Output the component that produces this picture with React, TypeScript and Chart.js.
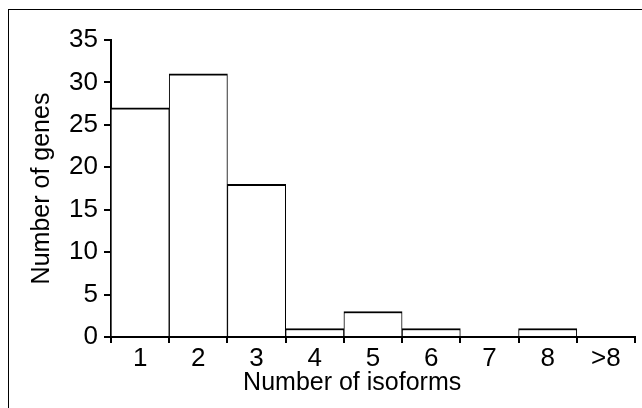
import React, { useEffect, useRef } from "react";
import { Chart, registerables } from "chart.js";

Chart.register(...registerables);

const categories = ["1", "2", "3", "4", "5", "6", "7", "8", ">8"];
const geneCounts = [27, 31, 18, 1, 3, 1, 0, 1, 0];
const yTickStep = 5;
const yMax = 35;
const xTitle = "Number of isoforms      ";
const yTitle = "Number of genes";

const FONT = "'Liberation Sans', Arial, Helvetica, sans-serif";

export default function App() {
  const ref = useRef<HTMLCanvasElement | null>(null);

  useEffect(() => {
    document.body.style.overflow = "hidden";
    const ctx = ref.current!.getContext("2d")!;
    const chart = new Chart(ctx, {
      type: "bar",
      data: {
        labels: categories,
        datasets: [
          {
            data: geneCounts,
            backgroundColor: "#ffffff",
            borderColor: "#000000",
            borderWidth: { left: 1, right: 1, top: 2, bottom: 0 },
            borderSkipped: false,
            barPercentage: 1,
            categoryPercentage: 1,
          },
        ],
      },
      options: {
        animation: false,
        responsive: false,
        maintainAspectRatio: false,
        layout: { padding: { top: 40, right: 7, left: 0, bottom: 0 } },
        plugins: { legend: { display: false }, tooltip: { enabled: false } },
        scales: {
          x: {
            offset: true,
            grid: {
              offset: true,
              drawOnChartArea: false,
              drawTicks: true,
              tickLength: 6,
              tickWidth: 2,
              tickColor: "#000",
              color: "#000",
              lineWidth: 2,
            },
            border: { display: true, color: "#000", width: 2 },
            ticks: {
              color: "#000",
              font: { family: FONT, size: 26 },
              padding: 0,
              maxRotation: 0,
              autoSkip: false,
            },
            title: {
              display: true,
              text: xTitle,
              color: "#000",
              font: { family: FONT, size: 25 },
              padding: { top: 0, bottom: 10 },
            },
            afterFit: (scale: any) => {
              scale.height = 71;
            },
          },
          y: {
            min: 0,
            max: yMax,
            grid: {
              drawOnChartArea: false,
              drawTicks: true,
              tickLength: 7,
              tickWidth: 2,
              tickColor: "#000",
              color: "#000",
              lineWidth: 2,
            },
            border: { display: true, color: "#000", width: 2 },
            ticks: {
              stepSize: yTickStep,
              color: "#000",
              font: { family: FONT, size: 26 },
              padding: 6,
            },
            title: {
              display: true,
              text: yTitle,
              color: "#000",
              font: { family: FONT, size: 25 },
              padding: { top: 27, bottom: 0 },
            },
            afterFit: (scale: any) => {
              scale.width = 111;
            },
          },
        },
      },
    });
    return () => chart.destroy();
  }, []);

  return (
    <>
      <div
        style={{
          position: "fixed",
          left: 8,
          top: 9,
          width: 2000,
          height: 2000,
          border: "1px solid #000",
          background: "#fff",
        }}
      />
      <div style={{ position: "fixed", left: 0, top: 0, width: 642, height: 408 }}>
        <canvas ref={ref} width={642} height={408} style={{ display: "block" }} />
      </div>
    </>
  );
}
